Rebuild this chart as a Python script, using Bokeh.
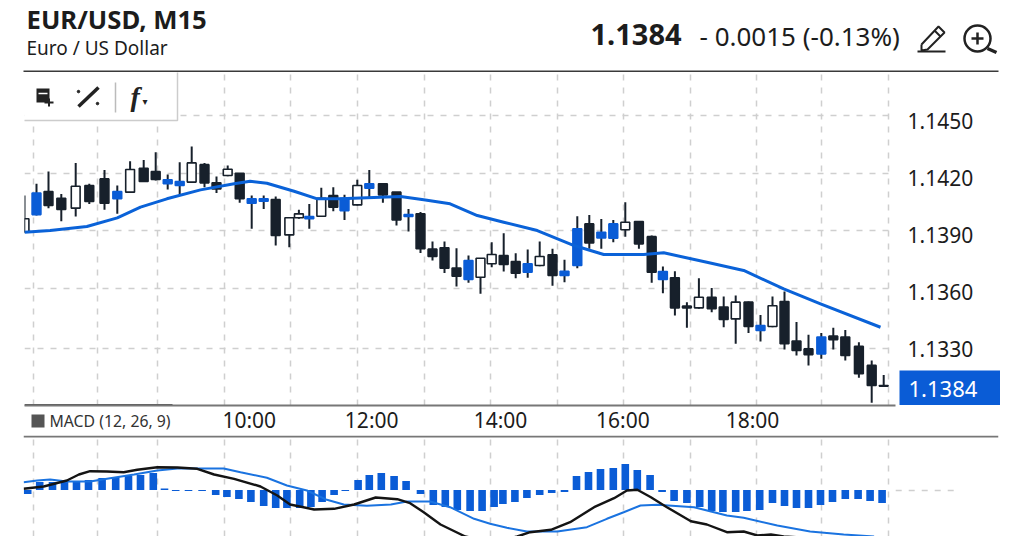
from bokeh.plotting import figure
from bokeh.layouts import column, row
from bokeh.models import ColumnDataSource, FixedTicker, NumeralTickFormatter, Span, Range1d, Grid
from bokeh.core.properties import value
from bokeh.embed import file_html
from bokeh.resources import INLINE

# ---------- data ----------
# bar time in minutes since the first visible bar
bar_minutes = [0,15,30,46,64,81,100,116,132,149,164,179,194,209,225,240,254,269,284,299,314,331,343,356,371,386,
               400,416,431,448,465,480,495,510,525,540,555,570,584,599,614,629,644,660,675,691,706,721,736,751,768,
               784,798,813,828,843,859,874,889,905,920,935,950,965,980,996,1011,1026,1043,1059,1074]
high = [1.14105,1.14167,1.14232,1.14114,1.14277,1.14167,1.14240,1.14158,1.14286,1.14293,1.14333,1.14216,1.14281,
        1.14363,1.14277,1.14205,1.14263,1.14223,1.14105,1.14105,1.14100,1.13988,1.14030,1.14061,1.14146,1.14149,
        1.14109,1.14189,1.14240,1.14167,1.14123,1.14035,1.14018,1.13863,1.13863,1.13828,1.13789,1.13775,1.13860,
        1.13907,1.13802,1.13821,1.13863,1.13825,1.13767,1.13996,1.14003,1.13982,1.13977,1.14070,1.13968,
        1.13895,1.13732,1.13707,1.13544,1.13670,1.13618,1.13574,1.13579,1.13547,1.13477,1.13574,1.13600,1.13439,
        1.13372,1.13382,1.13409,1.13398,1.13333,1.13237,1.13161]
body_top = [1.13983,1.14119,1.14126,1.14091,1.14154,1.14158,1.14193,1.14126,1.14242,1.14249,1.14232,1.14188,1.14179,
            1.14277,1.14268,1.14172,1.14244,1.14223,1.14088,1.14088,1.14084,1.13988,1.14009,1.13995,1.14091,1.14105,
            1.14091,1.14158,1.14167,1.14167,1.14123,1.14005,1.14009,1.13823,1.13830,1.13724,1.13763,1.13775,1.13795,
            1.13789,1.13758,1.13746,1.13784,1.13793,1.13707,1.13930,1.13956,1.13912,1.13956,1.13965,1.13968,
            1.13889,1.13705,1.13672,1.13523,1.13570,1.13570,1.13518,1.13544,1.13544,1.13421,1.13525,1.13547,1.13339,
            1.13298,1.13360,1.13365,1.13360,1.13311,1.13211,1.13105]
body_bot = [1.13912,1.14005,1.14053,1.14032,1.14039,1.14074,1.14065,1.14088,1.14123,1.14179,1.14190,1.14167,1.14158,
            1.14176,1.14172,1.14140,1.14211,1.14088,1.14065,1.14075,1.13895,1.13898,1.13988,1.13983,1.13996,1.14044,
            1.14026,1.14056,1.14144,1.14109,1.13977,1.13995,1.13825,1.13784,1.13723,1.13681,1.13663,1.13675,1.13746,
            1.13742,1.13696,1.13702,1.13737,1.13684,1.13684,1.13737,1.13856,1.13882,1.13881,1.13925,1.13851,
            1.13702,1.13663,1.13514,1.13514,1.13514,1.13509,1.13453,1.13456,1.13416,1.13395,1.13416,1.13325,1.13290,
            1.13268,1.13272,1.13347,1.13263,1.13167,1.13105,1.13102]
low = [1.13912,1.14000,1.14039,1.13970,1.13995,1.14061,1.14030,1.14009,1.14119,1.14176,1.14184,1.14137,1.14111,
       1.14172,1.14149,1.14119,1.14207,1.14067,1.13930,1.14035,1.13842,1.13833,1.13983,1.13930,1.13995,1.14023,
       1.13977,1.14053,1.14096,1.14067,1.13947,1.13916,1.13803,1.13763,1.13698,1.13626,1.13646,1.13588,1.13728,
       1.13705,1.13670,1.13672,1.13733,1.13631,1.13649,1.13723,1.13825,1.13825,1.13860,1.13889,1.13825,
       1.13646,1.13591,1.13474,1.13409,1.13509,1.13491,1.13412,1.13325,1.13382,1.13337,1.13412,1.13295,1.13263,
       1.13211,1.13246,1.13295,1.13237,1.13146,1.13014,1.13102]
kind = list("HBDDHDDBHDDBBHDDHDBBDHHBHD"   # 0-25
            "BHBDDBDDDDBHHDDBHDBBDBBHD"    # 26-50
            "DBDDHDDHDBHDDDBDDDDD")        # 51-70
ma_minutes = [0,32,78,116,145,178,220,262,282,303,337,366,395,428,470,499,532,566,599,641,687,724,774,799,853,899,949,995,1070]
ma_price = [1.13912,1.13921,1.13942,1.13988,1.14044,1.14088,1.14135,1.14167,1.14180,1.14170,1.14128,1.14088,1.14088,
            1.14093,1.14100,1.14083,1.14062,1.14000,1.13965,1.13921,1.13842,1.13795,1.13795,1.13804,1.13754,1.13711,
            1.13614,1.13535,1.13412]
price_ticks = [1.1450,1.1420,1.1390,1.1360,1.1330]
grid_prices = [1.14526,1.14221,1.13921,1.13616,1.13302]
time_ticks = {281:"10:00",434:"12:00",595:"14:00",748:"16:00",910:"18:00"}
grid_minutes = [11,91,166,250,333,416,500,583,666,749,833,915,996,1080]
hist_minutes = [4,19,35,50,65,80,97,114,130,145,161,175,189,205,222,239,253,268,283,299,314,328,344,358,372,387,401,
                417,431,446,462,477,495,511,526,541,557,572,587,598,613,628,644,659,675,690,705,720,736,751,766,782,
                797,812,828,844,859,873,889,903,919,935,950,965,980,995,1010,1026,1042,1057,1072]
hist_points = [-4,8,8,8,9,10,12,13,14,15,17,1.5,-1,-1,-1,-5,-7,-9,-12,-16,-18,-18,-18,-17,-12,-5,-1,10,15,17,14,9,-4,
               -15,-17,-20,-21,-21,-17,-14,-12,-8,-5,-3,-2,14,18,21,22,26,20,15,-2,-11,-13,-17,-21,-22,-22,-21,-20,
               -13,-16,-18,-18,-15,-12,-9,-9,-11,-13]
macd_minutes = [-1,24,53,68,82,103,124,141,166,191,216,237,262,295,316,332,362,387,412,439,466,482,499,520,551,585,616,
                632,658,682,712,737,753,766,783,803,833,853,878,899,916,933,949,1072]
macd_points = [1.2,3.5,9.5,15.5,18.8,18.5,17.8,20.2,22.8,22.5,21.2,15.5,11.2,3.5,-5.5,-14.5,-19.5,-18.8,-14.5,-7.5,-9.2,
               -13.2,-22.2,-34.5,-46.5,-52,-46.5,-42.2,-39.8,-32.2,-17.2,-8.2,-0.5,0.2,-7.2,-17.2,-31.2,-34.5,-42.2,
               -41.5,-45.5,-44.5,-46.5,-52]
signal_minutes = [-1,16,32,53,82,107,137,166,191,220,249,270,303,328,353,378,399,428,458,478,507,532,562,582,603,628,666,
                  703,728,749,770,791,837,878,899,941,982,1024,1062]
signal_points = [7.8,9.5,10.5,8.5,8.5,11.8,15.5,19.5,21.5,21.5,21.5,17.8,12.2,4.5,-0.5,-9.8,-14.5,-15.8,-14.5,-11.5,
                 -11.5,-17.2,-28.8,-33.8,-37.8,-41.5,-41.5,-37.2,-28.8,-22.2,-15.5,-14.8,-17.2,-25.5,-27.8,-35.5,-41.5,
                 -44.5,-46.5]
title_text = "EUR/USD, M15"
subtitle_text = "Euro / US Dollar"
last_price = "1.1384"
change_text = "- 0.0015 (-0.13%)"
macd_label = "MACD (12, 26, 9)"

# ---------- style ----------
FONT = "Noto Sans"
DARK = "#17202b"
BLUE = "#0a5cd6"
GRID = "#cfcfcf"
TXT = "#1c1c1c"
ICON = "#222222"

# ---------- header ----------
h = figure(width=1024, height=72, x_range=Range1d(0, 1024), y_range=Range1d(72, 0), x_axis_type=None, y_axis_type=None,
           toolbar_location=None, output_backend="svg", min_border=0, outline_line_color=None)
h.grid.visible = False
def head_text(x, y, t, size, bold=False):
    h.text([x], [y], text=[t], text_font=value(FONT), text_font_size=f"{size}px", text_color=TXT,
           text_baseline="middle", text_align="left", text_font_style="bold" if bold else "normal")
head_text(26, 19, title_text, 25.7, True)
head_text(26, 47, subtitle_text, 19)
head_text(590, 34, last_price, 29, True)
head_text(699, 35, change_text, 26)
h.segment([23], [71], [998], [71], line_color="#3a3a3a", line_width=2)
# pencil icon
h.multi_line([[921, 938, 944, 927, 921, 921], [917, 945], [934, 940]], [[44, 26, 32, 49, 50, 44], [51, 51], [30, 36]],
             line_color=ICON, line_width=2)
# magnifier icon
h.circle([977], [38], radius=13, fill_color=None, line_color=ICON, line_width=2.5)
h.multi_line([[971, 983], [977, 977], [987, 996]], [[38, 38], [32, 44], [48, 52]], line_color=ICON,
             line_width=[2.5, 2.5, 3.5])

# ---------- price panel ----------
px_x = lambda x: (x - 24) * 1.25
px_y = lambda y: 1.1330 + (348 - y) * 0.003 / 57

AXIS_ROW = 40   # space kept under the frame; the MACD panel overlaps its lowest part
p = figure(width=1024, height=333 + AXIS_ROW, x_range=Range1d(0, 1088.75), y_range=Range1d(1.1300, 1.14753),
           y_axis_location="right", toolbar_location=None, output_backend="svg", min_border=0, min_border_left=24,
           min_border_right=129, min_border_bottom=AXIS_ROW, outline_line_color=None)
p.xgrid.ticker = FixedTicker(ticks=grid_minutes)
p.ygrid.ticker = FixedTicker(ticks=grid_prices)
for g in (p.xgrid, p.ygrid):
    g.grid_line_color = GRID
    g.grid_line_dash = "6 7"
    g.grid_line_width = 1.5
ax = p.xaxis[0]
ax.ticker = FixedTicker(ticks=list(time_ticks))
ax.major_label_overrides = time_ticks
ax.major_tick_line_color = None
ax.minor_tick_line_color = None
ax.axis_line_color = "#777777"
ax.axis_line_width = 2
ax.major_label_text_font = FONT
ax.major_label_text_font_size = "21px"
ax.major_label_text_color = TXT
ax.major_label_standoff = -6
ay = p.yaxis[0]
ay.ticker = FixedTicker(ticks=price_ticks)
ay.formatter = NumeralTickFormatter(format="0.0000")
ay.major_tick_line_color = None
ay.minor_tick_line_color = None
ay.axis_line_color = None
ay.major_label_text_font = FONT
ay.major_label_text_font_size = "21px"
ay.major_label_text_color = TXT
ay.major_label_standoff = 6

colors = {"H": "#ffffff", "D": DARK, "B": BLUE}
src = ColumnDataSource(dict(x=bar_minutes, high=high, low=low, top=body_top, bot=body_bot,
                            fill=[colors[k] for k in kind],
                            edge=[BLUE if k == "B" else DARK for k in kind]))
p.segment("x", "high", "x", "low", source=src, line_color=DARK, line_width=2)
p.vbar("x", top="top", bottom="bot", width=11, source=src, fill_color="fill", line_color="edge", line_width=1.6)
p.line(ma_minutes, ma_price, line_color="#0a62d8", line_width=3, line_join="round")

# toolbar box (drawn over the grid)
p.quad(left=[px_x(20)], right=[px_x(177)], top=[px_y(60)], bottom=[px_y(120)], fill_color="#ffffff",
       line_color="#cccccc", line_width=1.5)
p.segment([px_x(115)], [px_y(82)], [px_x(115)], [px_y(112)], line_color="#bbbbbb", line_width=1.5)
p.quad(left=[px_x(36)], right=[px_x(49)], top=[px_y(88)], bottom=[px_y(102)], fill_color=ICON, line_color=None)
p.segment([px_x(38)], [px_y(93)], [px_x(47)], [px_y(93)], line_color="#ffffff", line_width=1.5)
p.multi_line([[px_x(44), px_x(53)], [px_x(48.5), px_x(48.5)]], [[px_y(102), px_y(102)], [px_y(98), px_y(106)]],
             line_color=ICON, line_width=2)
p.segment([px_x(78)], [px_y(106)], [px_x(98)], [px_y(87)], line_color=ICON, line_width=3.5)
p.scatter([px_x(78), px_x(97)], [px_y(91), px_y(103)], size=2.5, color=ICON)
p.text([px_x(130)], [px_y(96)], text=["f"], text_font=value("Liberation Serif"), text_font_style="bold italic",
       text_font_size="28px", text_color=ICON, text_baseline="middle")
p.text([px_x(142)], [px_y(101)], text=["▾"], text_font=value("DejaVu Sans"), text_font_size="10px",
       text_color=ICON, text_baseline="middle")

# left part of the rule under the chart is darker
p.segment([0], [1.13002], [px_x(172)], [1.13002], line_color="#555555", line_width=2)

# ---------- last-price tag (sits over the price panel) ----------
tag = figure(width=101, height=35, x_range=Range1d(899, 1000), y_range=Range1d(405, 370), x_axis_type=None,
             y_axis_type=None, toolbar_location=None, output_backend="svg", min_border=0, outline_line_color=None,
             background_fill_color=BLUE, border_fill_color=BLUE,
             styles={"position": "absolute", "left": "899px", "top": "370px", "z-index": "5"})
tag.grid.visible = False
tag.text([908], [388], text=[last_price], text_color="#ffffff", text_font=value(FONT), text_font_size="22px",
         text_baseline="middle", text_align="left")

# ---------- MACD legend (sits in the axis row) ----------
leg = figure(width=156, height=26, x_range=Range1d(24, 180), y_range=Range1d(433, 407), x_axis_type=None,
             y_axis_type=None, toolbar_location=None, output_backend="svg", min_border=0, outline_line_color=None,
             styles={"position": "absolute", "left": "24px", "top": "407px", "z-index": "5"})
leg.grid.visible = False
leg.quad(left=[31], right=[44], top=[414], bottom=[427], fill_color="#555555", line_color=None)
leg.text([49], [420.5], text=[macd_label], text_color="#333333", text_font=value(FONT), text_font_size="15.8px",
         text_baseline="middle", text_align="left")

# ---------- MACD panel ----------
m = figure(width=1024, height=101, x_range=Range1d(-1.25, 1217.5), y_range=Range1d(-46.5, 54.5), x_axis_type=None,
           y_axis_type=None, toolbar_location=None, output_backend="svg", min_border=0, min_border_left=23,
           min_border_right=26, outline_line_color=None)
m.add_layout(Grid(dimension=0, ticker=FixedTicker(ticks=grid_minutes), grid_line_color=GRID, grid_line_dash="6 7",
                  grid_line_width=1.5))
m.add_layout(Span(location=53.5, dimension="width", line_color="#777777", line_width=2))
m.segment([1089], [-0.5], [1170], [-0.5], line_color=GRID, line_dash="6 7", line_width=1.5)
m.vbar(hist_minutes, top=hist_points, bottom=0, width=9.5, fill_color=BLUE, line_color=None)
m.line(signal_minutes, signal_points, line_color="#1a73e0", line_width=2)
m.line(macd_minutes, macd_points, line_color="#141414", line_width=2.4)

mrow = row(m, spacing=0)
mrow.margin = (-10, 0, 0, 0)
layout = column(row(h, spacing=0), row(p, spacing=0), mrow, tag, leg, spacing=0)
open("out.html", "w").write(file_html(layout, INLINE))
